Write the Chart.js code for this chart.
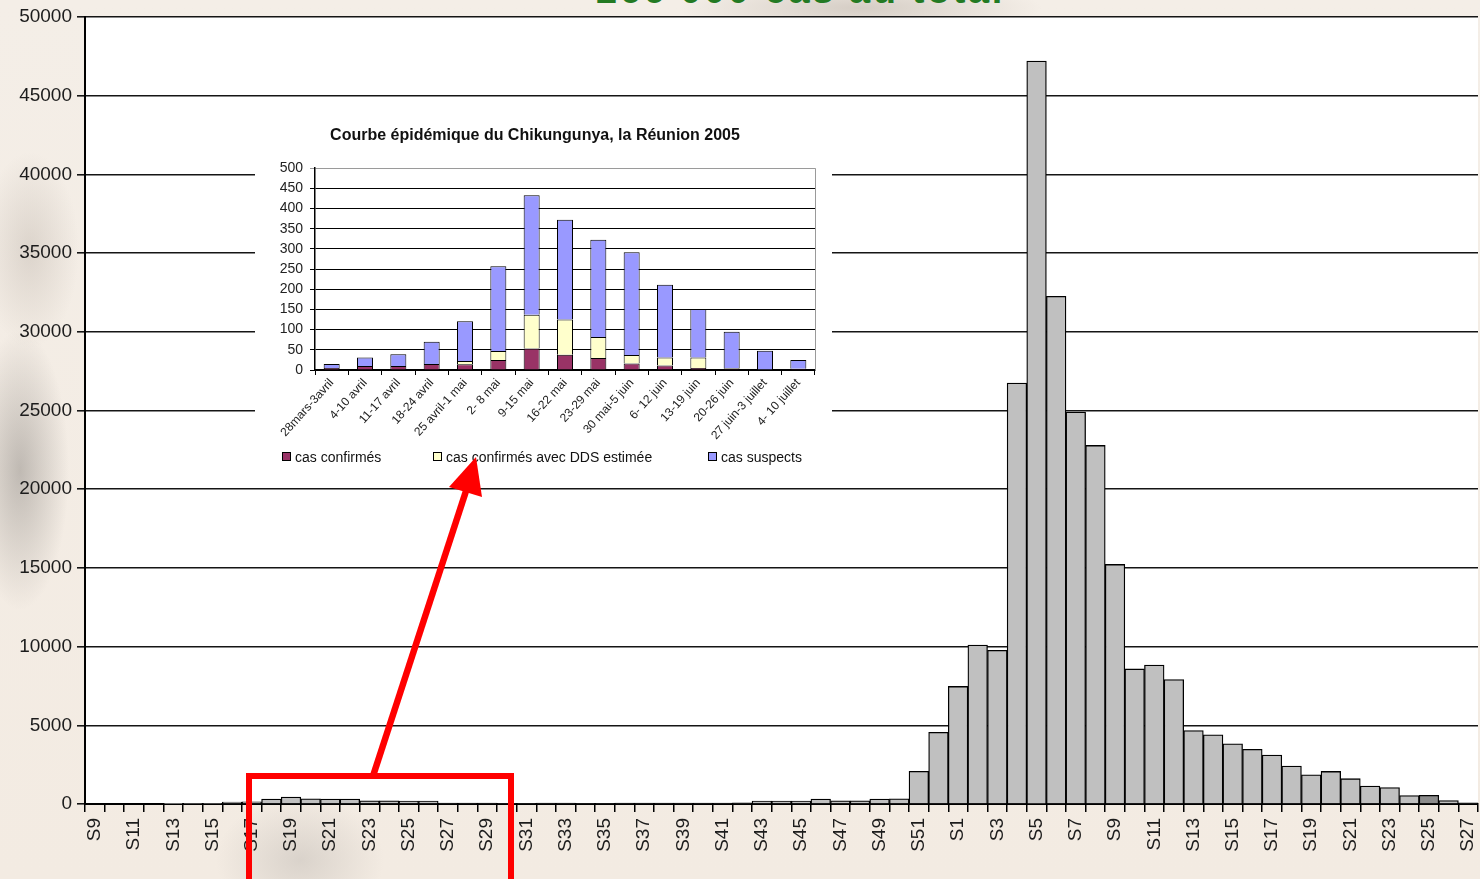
<!DOCTYPE html>
<html>
<head>
<meta charset="utf-8">
<script src="https://cdn.jsdelivr.net/npm/chart.js@4.4.1/dist/chart.umd.min.js"></script>
<style>
  html,body{margin:0;padding:0;}
  #wrap{position:relative;width:1480px;height:879px;overflow:hidden;
    background:
      radial-gradient(ellipse 70px 200px at 20px 470px, rgba(140,135,130,0.5), transparent 70%),
      radial-gradient(ellipse 70px 140px at 30px 250px, rgba(175,165,155,0.35), transparent 70%),
      radial-gradient(ellipse 120px 90px at 300px 860px, rgba(170,165,160,0.35), transparent 70%),
      radial-gradient(ellipse 260px 40px at 860px 8px, rgba(175,165,155,0.45), transparent 70%),
      linear-gradient(180deg,#f4eee7,#f3ebe2);
    font-family:"Liberation Sans", Arial, sans-serif;}
  #main{position:absolute;left:0;top:0;}
  #insetBox{position:absolute;left:255px;top:112px;width:577px;height:363px;background:#fff;}
  #inset{position:absolute;left:0;top:0;}
  .lg{position:absolute;top:338px;font-size:14px;color:#111;white-space:nowrap;line-height:15px;}
  .lg i{display:inline-block;width:7px;height:7px;border:1px solid #000;margin-right:4px;vertical-align:1px;}
  #topTitle{position:absolute;left:596px;top:-29px;font-size:38px;font-weight:bold;color:#237a23;letter-spacing:2.6px;white-space:nowrap;line-height:38px;}
  #overlay{position:absolute;left:0;top:0;pointer-events:none;}
</style>
</head>
<body>
<div id="wrap">
  <div id="topTitle">266 000 cas au total</div>
  <canvas id="main" width="1480" height="879"></canvas>
  <div id="insetBox">
    <canvas id="inset" width="577" height="363"></canvas>
    <div class="lg" style="left:27px"><i style="background:#993366"></i>cas confirmés</div>
    <div class="lg" style="left:178px"><i style="background:#ffffcc"></i>cas confirmés avec DDS estimée</div>
    <div class="lg" style="left:453px"><i style="background:#9999ff"></i>cas suspects</div>
  </div>
  <canvas id="overlay" width="1480" height="879"></canvas>
</div>
<script>
// ---- main chart data: weekly cases, S9 2005 .. S27 2006 ----
const weekLabels = [
  'S9','S10','S11','S12','S13','S14','S15','S16','S17','S18','S19','S20','S21','S22','S23','S24','S25','S26',
  'S27','S28','S29','S30','S31','S32','S33','S34','S35','S36','S37','S38','S39','S40','S41','S42','S43','S44',
  'S45','S46','S47','S48','S49','S50','S51','S52',
  'S1','S2','S3','S4','S5','S6','S7','S8','S9','S10','S11','S12','S13','S14','S15','S16','S17','S18',
  'S19','S20','S21','S22','S23','S24','S25','S26','S27'
];
const weeklyCases = [
  0,0,0,0,15,30,38,125,130,320,445,330,320,310,200,195,190,185,
  60,55,55,50,50,55,55,50,50,55,60,60,60,60,65,70,180,180,
  185,320,200,200,320,330,2080,4550,
  7470,10100,9760,26750,47200,32250,24900,22780,15220,8580,8830,7900,4660,4400,3830,3470,3110,2410,
  1860,2070,1610,1140,1040,540,550,220,80
];
const highlightedWeek = 68; // S25 2006 drawn darker
const yTicksMain = [0,5000,10000,15000,20000,25000,30000,35000,40000,45000,50000];

// ---- inset chart data: Réunion 2005 ----
const insetLabels = ['28mars-3avril','4-10 avril','11-17 avril','18-24 avril','25 avril-1 mai','2- 8 mai',
  '9-15 mai','16-22 mai','23-29 mai','30 mai-5 juin','6- 12 juin','13-19 juin','20-26 juin',
  '27 juin-3 juillet','4- 10 juillet'];
const casConfirmes = [5,10,10,15,14,25,53,38,30,16,11,5,3,1,3];
const casEstimes   = [0,0,0,0,8,22,84,87,52,21,20,26,2,0,0];
const casSuspects  = [10,21,29,55,99,210,296,247,241,255,180,120,90,47,22];

const FONT = '"Liberation Sans", Arial, sans-serif';

const whiteArea = {
  id:'whiteArea',
  beforeDraw(chart){
    const {ctx, chartArea:a} = chart;
    ctx.save(); ctx.fillStyle='#fff';
    ctx.fillRect(a.left, a.top, a.right-a.left, a.bottom-a.top);
    ctx.restore();
  }
};

new Chart(document.getElementById('main'), {
  type:'bar',
  data:{
    labels: weekLabels,
    datasets:[{
      data: weeklyCases,
      backgroundColor: weeklyCases.map((v,i)=> i===highlightedWeek ? '#8c8c8c' : '#c0c0c0'),
      borderColor:'#000',
      borderWidth:1.3,
      barPercentage:1,
      categoryPercentage:1
    }]
  },
  options:{
    responsive:false, animation:false,
    layout:{padding:{top:17,right:2,left:0,bottom:0}},
    plugins:{legend:{display:false}, tooltip:{enabled:false}},
    scales:{
      x:{
        grid:{display:true, drawOnChartArea:false, drawTicks:true, tickLength:8, color:'#000', lineWidth:1.5, offset:true},
        border:{display:true, color:'#000', width:2},
        ticks:{autoSkip:false, maxRotation:90, minRotation:90, padding:6,
          font:{family:FONT, size:19}, color:'#1c1c1c',
          callback:(v,i)=> i%2===0 ? weekLabels[i] : ''},
        afterFit:s=>{s.height=75; s.paddingLeft=0; s.paddingRight=0;}
      },
      y:{
        min:0, max:50000,
        afterBuildTicks:s=>{s.ticks = yTicksMain.map(v=>({value:v}));},
        grid:{color:'#151515', lineWidth:1.6, drawTicks:true, tickLength:8},
        border:{display:true, color:'#000', width:2},
        ticks:{font:{family:FONT, size:19}, color:'#1c1c1c', padding:5, callback:v=>String(v)},
        afterFit:s=>{s.width=85;}
      }
    }
  },
  plugins:[whiteArea]
});

const rightFrame = {
  id:'rightFrame',
  afterDraw(chart){
    const {ctx, chartArea:a} = chart;
    ctx.save(); ctx.strokeStyle='#9a9a9a'; ctx.lineWidth=1;
    ctx.beginPath(); ctx.moveTo(a.right+0.5, a.top); ctx.lineTo(a.right+0.5, a.bottom); ctx.stroke();
    ctx.restore();
  }
};

new Chart(document.getElementById('inset'), {
  type:'bar',
  data:{
    labels: insetLabels,
    datasets:[
      {label:'cas confirmés', data:casConfirmes, backgroundColor:'#993366'},
      {label:'cas confirmés avec DDS estimée', data:casEstimes, backgroundColor:'#ffffcc'},
      {label:'cas suspects', data:casSuspects, backgroundColor:'#9999ff'}
    ].map(d=>Object.assign(d,{borderColor:'#000', borderWidth:1, barPercentage:0.48, categoryPercentage:1}))
  },
  options:{
    responsive:false, animation:false,
    layout:{padding:{top:0,right:17,left:0,bottom:0}},
    plugins:{
      legend:{display:false}, tooltip:{enabled:false},
      title:{display:true, text:'Courbe épidémique du Chikungunya, la Réunion 2005',
        font:{family:FONT, size:16, weight:'bold'}, color:'#111', padding:{top:14,bottom:23}}
    },
    scales:{
      x:{
        stacked:true,
        grid:{display:true, drawOnChartArea:false, drawTicks:true, tickLength:5, color:'#000', lineWidth:1, offset:true},
        border:{display:true, color:'#000', width:1.5},
        ticks:{autoSkip:false, maxRotation:48, minRotation:48, padding:1,
          font:{family:FONT, size:12}, color:'#222'},
        afterFit:s=>{s.height=105; s.paddingLeft=0; s.paddingRight=0;}
      },
      y:{
        stacked:true, min:0, max:500,
        ticks:{stepSize:50, font:{family:FONT, size:14}, color:'#222', padding:7},
        grid:{color:c=> c.tick && c.tick.value===500 ? '#9a9a9a' : '#000', lineWidth:1, drawTicks:true, tickLength:5},
        border:{display:true, color:'#000', width:1.5},
        afterFit:s=>{s.width=60;}
      }
    }
  },
  plugins:[rightFrame]
});

// ---- red annotation (frame + arrow) ----
(function(){
  const ctx = document.getElementById('overlay').getContext('2d');
  ctx.strokeStyle='#ff0000'; ctx.fillStyle='#ff0000';
  ctx.lineWidth=6;
  ctx.strokeRect(249, 776, 262, 120);
  ctx.lineWidth=6.5;
  ctx.beginPath(); ctx.moveTo(373, 776); ctx.lineTo(467, 488); ctx.stroke();
  ctx.beginPath();
  ctx.moveTo(476, 457);
  ctx.lineTo(449, 487);
  ctx.lineTo(482, 497);
  ctx.closePath(); ctx.fill();
})();
</script>
</body>
</html>
